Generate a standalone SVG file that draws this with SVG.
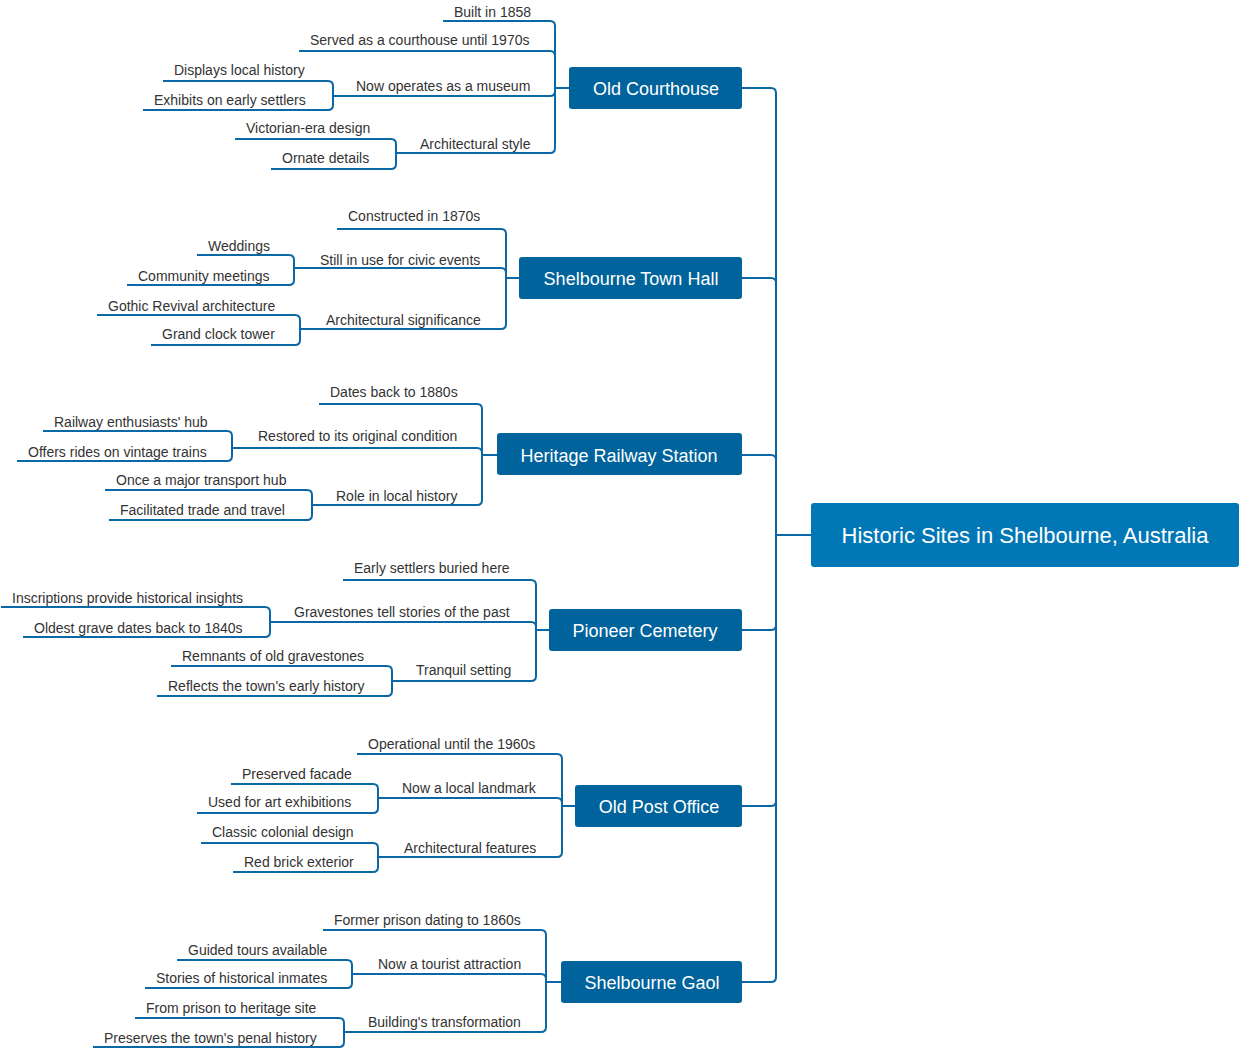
<svg xmlns="http://www.w3.org/2000/svg" width="1240" height="1048" viewBox="0 0 1240 1048">
<style>
.c{fill:none;stroke:#0a68a6;stroke-width:2}
.t{font-family:"Liberation Sans",Arial,sans-serif;font-size:14px;fill:#333}
.b{fill:#00639b}
.bt{font-family:"Liberation Sans",Arial,sans-serif;font-size:18px;fill:#fff;text-anchor:middle}
</style>
<rect width="1240" height="1048" fill="#fff"/>
<g id="connectors" class="c">
<path d="M811 535H776V93Q776 88 771 88H742M811 535H776V283Q776 278 771 278H742M811 535H776V460Q776 455 771 455H742M811 535H776V625Q776 630 771 630H742M811 535H776V801Q776 806 771 806H742M811 535H776V977Q776 982 771 982H742"/>
<path d="M569 88H555V26Q555 21 550 21H443M569 88H555V56Q555 51 550 51H299M569 88H555V91Q555 96 550 96H345M569 88H555V148Q555 153 550 153H409M345 96H333V86Q333 81 328 81H163M345 96H333V105Q333 110 328 110H143M409 153H396V144Q396 139 391 139H235M409 153H396V164Q396 169 391 169H271"/>
<path d="M519 278H506V234Q506 229 501 229H337M519 278H506V273Q506 268 501 268H309M519 278H506V324Q506 329 501 329H315M309 268H294V260Q294 255 289 255H197M309 268H294V280Q294 285 289 285H127M315 329H300V320Q300 315 295 315H97M315 329H300V340Q300 345 295 345H151"/>
<path d="M497 455H482V409Q482 404 477 404H319M497 455H482V453Q482 448 477 448H247M497 455H482V500Q482 505 477 505H325M247 448H232V436Q232 431 227 431H43M247 448H232V456Q232 461 227 461H17M325 505H312V495Q312 490 307 490H105M325 505H312V515Q312 520 307 520H109"/>
<path d="M549 630H536V585Q536 580 531 580H343M549 630H536V627Q536 622 531 622H283M549 630H536V676Q536 681 531 681H405M283 622H270V612Q270 607 265 607H1M283 622H270V632Q270 637 265 637H23M405 681H392V671Q392 666 387 666H171M405 681H392V691Q392 696 387 696H157"/>
<path d="M575 806H562V759Q562 754 557 754H357M575 806H562V803Q562 798 557 798H391M575 806H562V852Q562 857 557 857H393M391 798H378V789Q378 784 373 784H231M391 798H378V808Q378 813 373 813H197M393 857H378V848Q378 843 373 843H201M393 857H378V867Q378 872 373 872H233"/>
<path d="M561 982H546V935Q546 930 541 930H323M561 982H546V979Q546 974 541 974H367M561 982H546V1027Q546 1032 541 1032H357M367 974H352V965Q352 960 347 960H177M367 974H352V983Q352 988 347 988H145M357 1032H344V1023Q344 1018 339 1018H135M357 1032H344V1042Q344 1047 339 1047H93"/>
</g>
<g id="root"><rect x="811" y="503" width="428" height="64" rx="3" fill="#0277b6"/><text x="1025" y="543" class="bt" style="font-size:22px">Historic Sites in Shelbourne, Australia</text></g>
<g id="n1"><rect class="b" x="569" y="67" width="173" height="42" rx="3"/><text class="bt" x="656" y="95">Old Courthouse</text></g>
<g id="n2"><rect class="b" x="519" y="257" width="223" height="42" rx="3"/><text class="bt" x="631" y="285">Shelbourne Town Hall</text></g>
<g id="n3"><rect class="b" x="497" y="433" width="245" height="42" rx="3"/><text class="bt" x="619" y="462">Heritage Railway Station</text></g>
<g id="n4"><rect class="b" x="549" y="609" width="193" height="42" rx="3"/><text class="bt" x="645" y="637">Pioneer Cemetery</text></g>
<g id="n5"><rect class="b" x="575" y="785" width="167" height="42" rx="3"/><text class="bt" x="659" y="813">Old Post Office</text></g>
<g id="n6"><rect class="b" x="561" y="961" width="181" height="42" rx="3"/><text class="bt" x="652" y="989">Shelbourne Gaol</text></g>
<g id="labels" class="t">
<text x="454" y="17">Built in 1858</text>
<text x="310" y="45">Served as a courthouse until 1970s</text>
<text x="356" y="91">Now operates as a museum</text>
<text x="174" y="75">Displays local history</text>
<text x="154" y="105">Exhibits on early settlers</text>
<text x="420" y="149">Architectural style</text>
<text x="246" y="133">Victorian-era design</text>
<text x="282" y="163">Ornate details</text>
<text x="348" y="221">Constructed in 1870s</text>
<text x="320" y="265">Still in use for civic events</text>
<text x="208" y="251">Weddings</text>
<text x="138" y="281">Community meetings</text>
<text x="326" y="325">Architectural significance</text>
<text x="108" y="311">Gothic Revival architecture</text>
<text x="162" y="339">Grand clock tower</text>
<text x="330" y="397">Dates back to 1880s</text>
<text x="258" y="441">Restored to its original condition</text>
<text x="54" y="427">Railway enthusiasts' hub</text>
<text x="28" y="457">Offers rides on vintage trains</text>
<text x="336" y="501">Role in local history</text>
<text x="116" y="485">Once a major transport hub</text>
<text x="120" y="515">Facilitated trade and travel</text>
<text x="354" y="573">Early settlers buried here</text>
<text x="294" y="617">Gravestones tell stories of the past</text>
<text x="12" y="603">Inscriptions provide historical insights</text>
<text x="34" y="633">Oldest grave dates back to 1840s</text>
<text x="416" y="675">Tranquil setting</text>
<text x="182" y="661">Remnants of old gravestones</text>
<text x="168" y="691">Reflects the town's early history</text>
<text x="368" y="749">Operational until the 1960s</text>
<text x="402" y="793">Now a local landmark</text>
<text x="242" y="779">Preserved facade</text>
<text x="208" y="807">Used for art exhibitions</text>
<text x="404" y="853">Architectural features</text>
<text x="212" y="837">Classic colonial design</text>
<text x="244" y="867">Red brick exterior</text>
<text x="334" y="925">Former prison dating to 1860s</text>
<text x="378" y="969">Now a tourist attraction</text>
<text x="188" y="955">Guided tours available</text>
<text x="156" y="983">Stories of historical inmates</text>
<text x="368" y="1027">Building's transformation</text>
<text x="146" y="1013">From prison to heritage site</text>
<text x="104" y="1043">Preserves the town's penal history</text>
</g>
</svg>
